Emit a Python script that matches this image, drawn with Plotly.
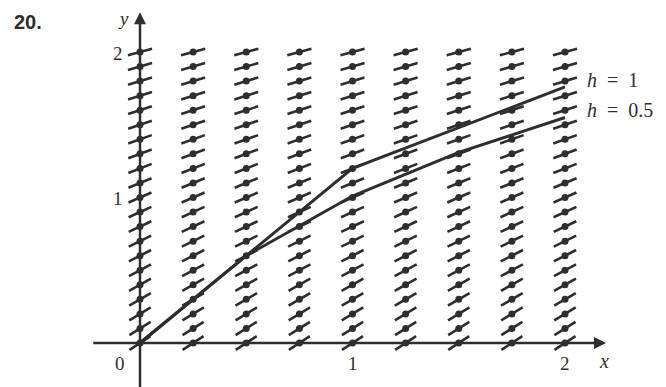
import math
import plotly.graph_objects as go

# ---- data ----
field_x = [0, 0.25, 0.5, 0.75, 1.0, 1.25, 1.5, 1.75, 2.0]
field_y = [0.0, 0.1, 0.2, 0.3, 0.4, 0.5, 0.6, 0.7, 0.8, 0.9, 1.0,
           1.1, 1.2, 1.3, 1.4, 1.5, 1.6, 1.7, 1.8, 1.9, 2.0]
row_slopes = [0.95, 0.92, 0.88, 0.85, 0.82, 0.78, 0.75, 0.72, 0.69, 0.66, 0.63,
              0.60, 0.57, 0.55, 0.52, 0.50, 0.48, 0.46, 0.44, 0.42, 0.40]

euler_h1_x = [0, 1, 2]
euler_h1_y = [0, 1.2, 1.76]
euler_h05_x = [0, 0.5, 1.0, 1.5, 2.0]
euler_h05_y = [0, 0.6, 1.01, 1.31, 1.55]

x_ticks = [0, 1, 2]
x_tick_labels = ["0", "1", "2"]
y_ticks = [1, 2]
y_tick_labels = ["1", "2"]
series_labels = ["<i>h</i>&nbsp; =&nbsp; 1", "<i>h</i>&nbsp; =&nbsp; 0.5"]

# ---- figure geometry (page body has an 8px margin) ----
W, H = 666, 387
OX, OY = 132, 335          # origin in figure pixels
SX, SY = 212.5, 145.5      # pixels per data unit
X0 = [-OX / SX, (W - OX) / SX]
Y0 = [-(H - OY) / SY, OY / SY]
INK = "#2e2e2e"
SERIF = "Liberation Serif, Times New Roman, serif"

fig = go.Figure()

# direction field segments
seg_len_px = 25
sx, sy, cx, cy = [], [], [], []
for yv, s in zip(field_y, row_slopes):
    dyp = s * SY / SX
    norm = math.hypot(1.0, dyp)
    hx = (seg_len_px / 2) / norm / SX
    for xv in field_x:
        sx += [xv - hx, xv + hx, None]
        sy += [yv - s * hx, yv + s * hx, None]
        cx.append(xv)
        cy.append(yv)

fig.add_trace(go.Scatter(x=sx, y=sy, mode="lines",
                         line=dict(color=INK, width=2.6), hoverinfo="skip"))
fig.add_trace(go.Scatter(x=cx, y=cy, mode="markers",
                         marker=dict(color=INK, size=7, symbol="circle", line=dict(width=0)),
                         hoverinfo="skip"))

# axes
fig.add_shape(type="line", x0=-0.22, y0=0, x1=2.15, y1=0,
              line=dict(color=INK, width=2.5))
fig.add_shape(type="line", x0=0, y0=-0.4, x1=0, y1=2.2,
              line=dict(color=INK, width=2.5))
fig.add_annotation(x=2.193, y=0, ax=2.1, ay=0, axref="x", ayref="y",
                   xref="x", yref="y", text="", showarrow=True,
                   arrowhead=2, arrowsize=1.2, arrowwidth=2, arrowcolor=INK)
fig.add_annotation(x=0, y=2.274, ax=0, ay=2.15, axref="x", ayref="y",
                   xref="x", yref="y", text="", showarrow=True,
                   arrowhead=2, arrowsize=1.2, arrowwidth=2, arrowcolor=INK)

# Euler approximations
fig.add_trace(go.Scatter(x=euler_h1_x, y=euler_h1_y, mode="lines",
                         line=dict(color=INK, width=3), hoverinfo="skip"))
fig.add_trace(go.Scatter(x=euler_h05_x, y=euler_h05_y, mode="lines",
                         line=dict(color=INK, width=3), hoverinfo="skip"))

# tick labels
for xv, lab in zip(x_ticks, x_tick_labels):
    xoff = -20 if xv == 0 else 0
    fig.add_annotation(x=xv, y=0, text=lab, showarrow=False, xref="x", yref="y",
                       xshift=xoff, yshift=-20,
                       font=dict(family=SERIF, size=19, color=INK))
for yv, lab in zip(y_ticks, y_tick_labels):
    fig.add_annotation(x=0, y=yv, text=lab, showarrow=False, xref="x", yref="y",
                       xshift=-22, yshift=-1,
                       font=dict(family=SERIF, size=19, color=INK))

# axis titles
fig.add_annotation(x=2.193, y=0, text="<i>x</i>", showarrow=False, xref="x", yref="y",
                   xshift=-2, yshift=-18, font=dict(family=SERIF, size=20, color=INK))
fig.add_annotation(x=0, y=2.274, text="<i>y</i>", showarrow=False, xref="x", yref="y",
                   xshift=-17, yshift=-6, font=dict(family=SERIF, size=19, color=INK))

# series labels
fig.add_annotation(x=2.0, y=1.8, text=series_labels[0], showarrow=False,
                   xref="x", yref="y", xanchor="left", xshift=20, yshift=1,
                   font=dict(family=SERIF, size=20, color=INK))
fig.add_annotation(x=2.0, y=1.6, text=series_labels[1], showarrow=False,
                   xref="x", yref="y", xanchor="left", xshift=20, yshift=0,
                   font=dict(family=SERIF, size=20, color=INK))

# problem number
fig.add_annotation(x=4 / W, y=1 - 14 / H, xref="paper", yref="paper", text="<b>20.</b>",
                   showarrow=False, xanchor="left", yanchor="middle",
                   font=dict(family="Liberation Sans, Arial, sans-serif", size=20, color=INK))

fig.update_layout(
    width=W, height=H, margin=dict(l=0, r=0, t=0, b=0),
    paper_bgcolor="white", plot_bgcolor="white", showlegend=False,
    xaxis=dict(range=X0, visible=False, fixedrange=True),
    yaxis=dict(range=Y0, visible=False, fixedrange=True),
)

fig.write_html("out.html")
